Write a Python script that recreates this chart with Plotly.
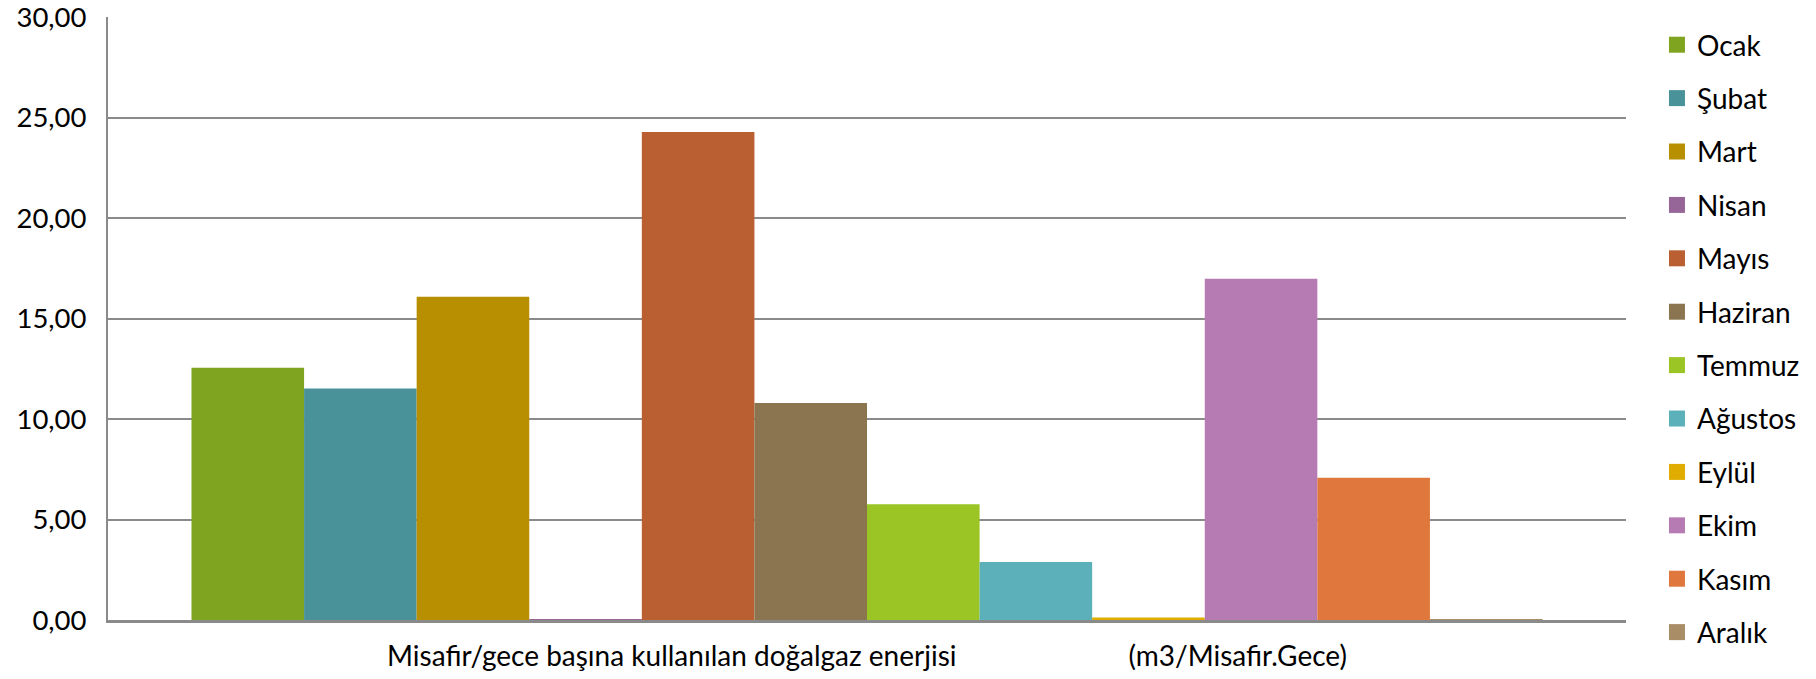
import plotly.graph_objects as go

months = ["Ocak", "Şubat", "Mart", "Nisan", "Mayıs", "Haziran", "Temmuz",
          "Ağustos", "Eylül", "Ekim", "Kasım", "Aralık"]
values = [12.55, 11.52, 16.08, 0.05, 24.28, 10.80, 5.76, 2.88, 0.12, 16.98, 7.08, 0.03]
colors = ["#7FA41F", "#4A9299", "#B88F00", "#976698", "#B95F31", "#8B7551",
          "#9BC524", "#5BB0BA", "#E0AC00", "#B77BB3", "#E0773D", "#A88D66"]
category = ["Misafir/gece başına kullanılan doğalgaz enerjisi" + "\u00a0" * 24 + "(m3/Misafir.Gece)"]
y_ticks = [0, 5, 10, 15, 20, 25, 30]

FONT = "Lato"

fig = go.Figure()
for m, v, c in zip(months, values, colors):
    fig.add_trace(go.Bar(x=category, y=[v], name=m, marker=dict(color=c, line=dict(width=0)),
                         legendgroup=m, showlegend=False))
# legend entries with larger square swatches
for m, c in zip(months, colors):
    fig.add_trace(go.Scatter(x=category, y=[None], name=m, mode="markers",
                             marker=dict(symbol="square", size=17, color=c, line=dict(width=0)),
                             legendgroup=m, showlegend=True, hoverinfo="skip"))

fig.update_layout(
    width=1816, height=679,
    barmode="group", bargap=0.11, bargroupgap=0,
    separators=",.",
    paper_bgcolor="white", plot_bgcolor="white",
    margin=dict(l=108, r=190, t=17, b=59, autoexpand=False),
    font=dict(family=FONT, size=28, color="#000000"),
    legend=dict(x=1.0204, xanchor="left", y=0.995, yanchor="top",
                traceorder="grouped", tracegroupgap=14, maxheight=670,
                font=dict(family=FONT, size=28, color="#000000"),
                bgcolor="rgba(0,0,0,0)"),
    showlegend=True,
)
fig.update_yaxes(range=[0, 30], tickvals=y_ticks, tickformat=".2f", automargin=False,
                 showgrid=True, gridcolor="#8a8a8a", gridwidth=1.5,
                 showline=True, linecolor="#8a8a8a", linewidth=2,
                 zeroline=False, ticks="", ticklabelstandoff=14,
                 ticklabeloverflow="allow",
                 tickfont=dict(family=FONT, size=27.5, color="#000000"))
fig.update_xaxes(showline=True, linecolor="#8a8a8a", linewidth=2.5, ticks="", automargin=False,
                 ticklabelstandoff=10, ticklabeloverflow="allow",
                 tickfont=dict(family=FONT, size=28, color="#000000"))

fig.write_html("out.html", config={"displayModeBar": False},
               post_script="document.body.style.margin='0';")
